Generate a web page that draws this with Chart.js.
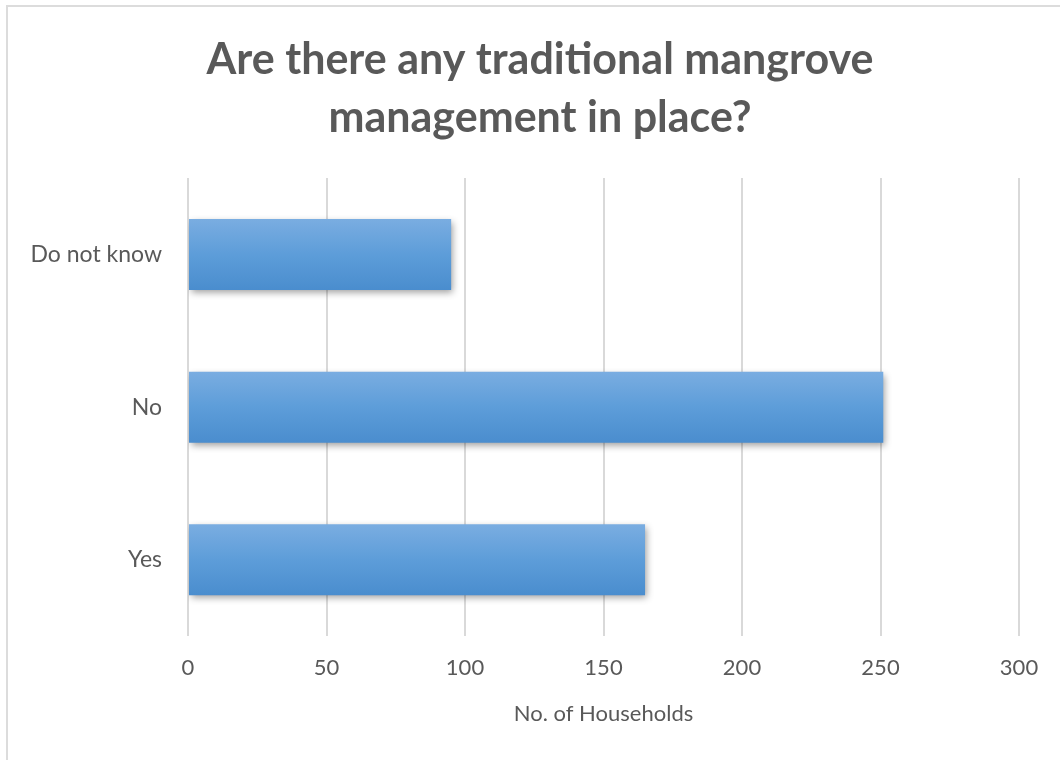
<!DOCTYPE html>
<html>
<head>
<meta charset="utf-8">
<title>Traditional mangrove management</title>
<script src="https://cdn.jsdelivr.net/npm/chart.js@4"></script>
<style>
  html, body { margin:0; padding:0; background:#fff; }
  body { width:1060px; height:760px; position:relative; overflow:hidden; }
  .frame { position:absolute; left:6px; top:5px; width:1100px; height:800px; border:2px solid #dcdcdc; box-sizing:border-box; }
  .wrap { position:absolute; left:0; top:0; width:1060px; height:760px; }
</style>
</head>
<body>
<div class="frame"></div>
<div class="wrap"><canvas id="chart" width="1060" height="760"></canvas></div>
<script>
// answers, top to bottom as shown on the axis
const answers = ['Do not know', 'No', 'Yes'];
const households = [95, 251, 165];
const xTicks = [0, 50, 100, 150, 200, 250, 300];

const titleLines = ['Are there any traditional mangrove', 'management in place?'];
const xTitle = 'No. of Households';

const BAR_PCT = 0.465;
const textGrey = '#595959';

// vertical gradient per bar, worked out from the category scale
function barFill(ctx){
  const chart = ctx.chart;
  const y = chart.scales && chart.scales.y;
  if(!chart.chartArea || !y) return '#5b9bd5';
  const c = y.getPixelForValue(ctx.dataIndex);
  const half = Math.abs(y.getPixelForValue(1) - y.getPixelForValue(0)) * BAR_PCT / 2;
  const g = chart.ctx.createLinearGradient(0, c - half, 0, c + half);
  g.addColorStop(0, '#7aade1');
  g.addColorStop(0.5, '#5d9dd9');
  g.addColorStop(1, '#4a8dce');
  return g;
}

// soft drop shadow under the bars
const barShadow = {
  id:'barShadow',
  beforeDatasetsDraw(chart){
    const c = chart.ctx; c.save();
    c.shadowColor = 'rgba(0,0,0,0.38)'; c.shadowBlur = 7; c.shadowOffsetX = 2; c.shadowOffsetY = 3;
  },
  afterDatasetsDraw(chart){ chart.ctx.restore(); }
};

// centre the title on the whole frame instead of the padded layout box
const titleShift = {
  id:'titleShift',
  afterLayout(chart){
    const t = chart.titleBlock; if(!t) return;
    const mid = 540, cur = (t.left + t.right) / 2;
    t.left += mid - cur; t.right += mid - cur;
  }
};

new Chart(document.getElementById('chart'), {
  type:'bar',
  data:{ labels:answers, datasets:[{ data:households, backgroundColor:barFill, borderWidth:0, barPercentage:BAR_PCT, categoryPercentage:1 }] },
  options:{
    indexAxis:'y', responsive:false, animation:false,
    layout:{ padding:{ left:20, right:41, top:0, bottom:33 } },
    plugins:{
      legend:{ display:false }, tooltip:{ enabled:false },
      title:{ display:true, text:titleLines, color:textGrey, font:{ family:'Lato', size:43, weight:'bold', lineHeight:1.35 }, padding:{ top:31, bottom:31 } }
    },
    scales:{
      x:{
        min:0, max:300,
        afterBuildTicks(s){ s.ticks = xTicks.map(v=>({value:v})); },
        grid:{ color:'#d9d9d9', lineWidth:2, drawTicks:false },
        border:{ display:false },
        ticks:{ color:textGrey, padding:19, font:{ family:'Lato', size:22 } },
        title:{ display:true, text:xTitle, color:textGrey, font:{ family:'Lato', size:22 }, padding:{ top:0, bottom:0 } }
      },
      y:{
        afterFit(s){ s.width = 168; },
        grid:{ display:false },
        border:{ display:false },
        ticks:{ color:textGrey, padding:18, font:{ family:'Lato', size:23 } }
      }
    }
  },
  plugins:[barShadow, titleShift]
});
</script>
</body>
</html>
